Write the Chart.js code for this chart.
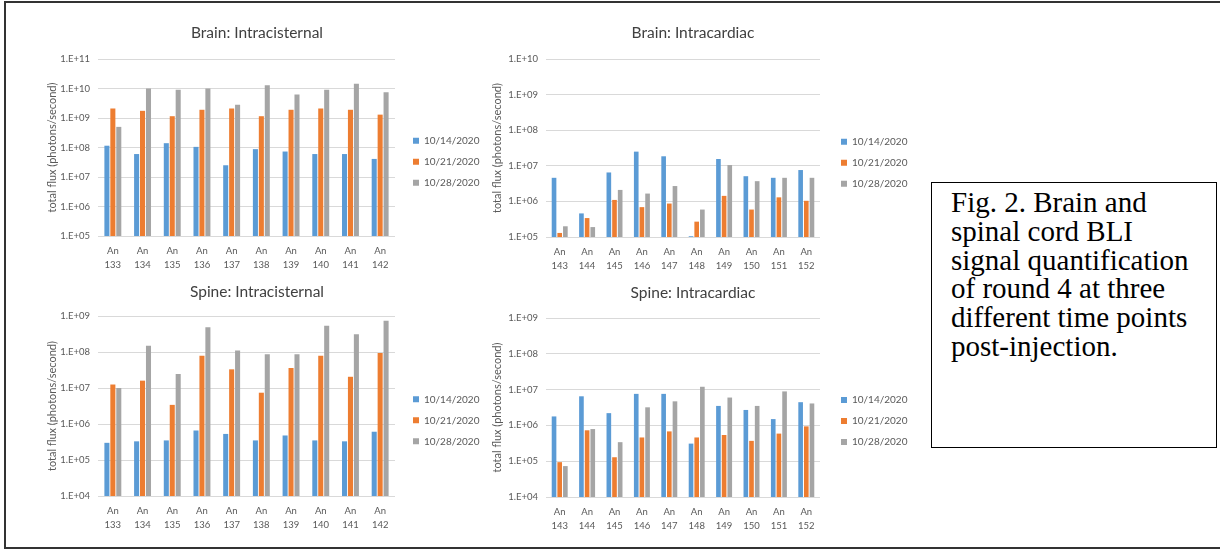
<!DOCTYPE html>
<html><head><meta charset="utf-8">
<script src="https://cdn.jsdelivr.net/npm/chart.js@4.4.1/dist/chart.umd.min.js"></script>
<style>
html,body{margin:0;padding:0;background:#fff;width:1220px;height:550px;overflow:hidden;}
canvas{position:absolute;}
#frame{position:absolute;left:4px;top:1px;width:1300px;height:548px;box-sizing:border-box;border:2px solid #333;border-right:none;}
#caption{position:absolute;left:931px;top:182px;width:286px;height:266px;box-sizing:border-box;border:1px solid #000;}
#captionText{position:absolute;left:951px;top:188px;font-family:"Liberation Serif","Times New Roman",serif;font-size:29px;line-height:28.8px;color:#000;white-space:nowrap;}
</style></head>
<body>
<div id="frame"></div>
<canvas id="c1" width="450" height="271" style="left:30px;top:5px"></canvas>
<canvas id="c2" width="430" height="272" style="left:480px;top:5px"></canvas>
<canvas id="c3" width="450" height="258" style="left:30px;top:278px"></canvas>
<canvas id="c4" width="430" height="259" style="left:480px;top:278px"></canvas>
<div id="caption"></div>
<div id="captionText">Fig. 2. Brain and<br>spinal cord BLI<br>signal quantification<br>of round 4 at three<br>different time points<br>post-injection.</div>
<script>
// ---------- data ----------
const seriesNames = ['10/14/2020', '10/21/2020', '10/28/2020'];

const icAnimals = ['133','134','135','136','137','138','139','140','141','142'];
const cardAnimals = ['143','144','145','146','147','148','149','150','151','152'];

// Brain: Intracisternal
const brainIcDay1 = [1.15e8, 6.0e7, 1.4e8, 1.05e8, 2.5e7, 8.8e7, 7.3e7, 6.0e7, 6.0e7, 4.1e7];
const brainIcDay2 = [2.1e9, 1.75e9, 1.15e9, 1.9e9, 2.1e9, 1.15e9, 1.9e9, 2.1e9, 1.9e9, 1.3e9];
const brainIcDay3 = [5.0e8, 1.0e10, 9.0e9, 1.0e10, 2.8e9, 1.3e10, 6.2e9, 9.0e9, 1.45e10, 7.4e9];

// Brain: Intracardiac
const brainCardDay1 = [4.6e6, 4.6e5, 6.5e6, 2.5e7, 1.85e7, 1.05e5, 1.55e7, 5.1e6, 4.6e6, 7.6e6];
const brainCardDay2 = [1.3e5, 3.4e5, 1.1e6, 6.9e5, 8.7e5, 2.7e5, 1.43e6, 5.9e5, 1.3e6, 1.04e6];
const brainCardDay3 = [2.0e5, 1.9e5, 2.1e6, 1.66e6, 2.7e6, 5.9e5, 1.05e7, 3.7e6, 4.6e6, 4.6e6];

// Spine: Intracisternal
const spineIcDay1 = [3.0e5, 3.3e5, 3.5e5, 6.6e5, 5.3e5, 3.5e5, 4.8e5, 3.5e5, 3.3e5, 6.1e5];
const spineIcDay2 = [1.25e7, 1.6e7, 3.4e6, 7.9e7, 3.3e7, 7.4e6, 3.6e7, 7.9e7, 2.05e7, 9.4e7];
const spineIcDay3 = [1.0e7, 1.5e8, 2.45e7, 4.9e8, 1.1e8, 8.6e7, 8.6e7, 5.4e8, 3.1e8, 7.4e8];

// Spine: Intracardiac
const spineCardDay1 = [1.78e6, 6.5e6, 2.2e6, 7.6e6, 7.6e6, 3.1e5, 3.5e6, 2.7e6, 1.5e6, 4.45e6];
const spineCardDay2 = [9.4e4, 7.3e5, 1.29e5, 4.6e5, 6.8e5, 4.6e5, 5.4e5, 3.7e5, 5.9e5, 9.4e5];
const spineCardDay3 = [7.3e4, 7.9e5, 3.4e5, 3.2e6, 4.7e6, 1.2e7, 6.0e6, 3.5e6, 8.9e6, 4.1e6];

// y-axis ticks
const ticksBrainIc = [1e5, 1e6, 1e7, 1e8, 1e9, 1e10, 1e11];
const labelsBrainIc = ['1.E+05','1.E+06','1.E+07','1.E+08','1.E+09','1.E+10','1.E+11'];
const ticksBrainCard = [1e5, 1e6, 1e7, 1e8, 1e9, 1e10];
const labelsBrainCard = ['1.E+05','1.E+06','1.E+07','1.E+08','1.E+09','1.E+10'];
const ticksSpine = [1e4, 1e5, 1e6, 1e7, 1e8, 1e9];
const labelsSpine = ['1.E+04','1.E+05','1.E+06','1.E+07','1.E+08','1.E+09'];

// ---------- styling ----------
const colors = ['#5B9BD5', '#ED7D31', '#A5A5A5'];
Chart.defaults.font.family = 'Lato';
Chart.defaults.color = '#595959';

const pinPlugin = {
  id: 'pin',
  afterLayout(chart, args, o) {
    const lg = chart.legend;
    if (lg && o.legendX != null) {
      lg.left = o.legendX - o.pad;
      lg.right = lg.left + 100;
      lg.top = o.legendY - o.itemH / 2 - o.pad;
      lg.bottom = lg.top + 200;
      lg.width = 100; lg.height = 200;
    }
    const tb = chart.titleBlock;
    if (tb && o.titleX != null) {
      const w = tb.right - tb.left;
      tb.left = o.titleX - w / 2;
      tb.right = tb.left + w;
    }
  }
};

function makeChart(id, g, title, animals, series, tickVals, tickLabels) {
  const ymin = tickVals[0], ymax = tickVals[tickVals.length - 1];
  new Chart(document.getElementById(id), {
    type: 'bar',
    data: {
      labels: animals.map(a => ['An', a]),
      datasets: series.map((d, i) => ({
        label: seriesNames[i],
        data: d,
        backgroundColor: colors[i],
        borderWidth: 0,
        categoryPercentage: g.catPct,
        barPercentage: g.barPct
      }))
    },
    options: {
      responsive: false,
      animation: false,
      devicePixelRatio: 1,
      layout: { padding: { left: 0, top: 0, bottom: 0, right: g.padR } },
      plugins: {
        tooltip: { enabled: false },
        title: {
          display: true, text: title, color: '#404040',
          font: { size: 15.5, family: 'Lato', weight: 'normal', lineHeight: '18px' },
          padding: { top: g.tPadTop, bottom: g.tPadBot }
        },
        legend: {
          display: true, position: 'right', align: 'start', maxWidth: 1,
          labels: { boxWidth: 6, boxHeight: 6, padding: 11, color: '#595959',
                    font: { size: 10, family: 'Lato' } }
        },
        pin: { legendX: g.legendX, legendY: g.legendY, titleX: g.titleX, pad: 11, itemH: 10 }
      },
      scales: {
        x: {
          grid: { display: false, drawTicks: false },
          border: { display: false },
          ticks: { autoSkip: false, maxRotation: 0, minRotation: 0, padding: 8, color: '#595959',
                   font: { size: 9.5, family: 'Lato', lineHeight: '14px' } },
          afterFit: s => { s.height = 40; }
        },
        y: {
          type: 'logarithmic', min: ymin, max: ymax,
          grid: { color: '#D9D9D9', lineWidth: 1, drawTicks: false },
          border: { display: false },
          afterBuildTicks: s => { s.ticks = tickVals.map(v => ({ value: v })); },
          ticks: {
            padding: 8, color: '#595959',
            font: { size: 9.5, family: 'Lato' },
            callback: v => { const k = tickVals.indexOf(v); return k >= 0 ? tickLabels[k] : ''; }
          },
          title: {
            display: true, text: 'total flux (photons/second)', color: '#595959',
            font: { size: 11, family: 'Lato', lineHeight: 1.2 },
            padding: { top: g.yTitlePad, bottom: 0 }
          },
          afterFit: s => { s.width = g.yW; }
        }
      }
    },
    plugins: [pinPlugin]
  });
}

makeChart('c1', { padR: 84, yW: 68, tPadTop: 19, tPadBot: 17, yTitlePad: 15.4,
                  titleX: 227, legendX: 383, legendY: 135.7, catPct: 0.6, barPct: 0.85 },
          'Brain: Intracisternal', icAnimals, [brainIcDay1, brainIcDay2, brainIcDay3],
          ticksBrainIc, labelsBrainIc);
makeChart('c2', { padR: 89, yW: 66, tPadTop: 18.5, tPadBot: 17.5, yTitlePad: 10.4,
                  titleX: 213, legendX: 361, legendY: 136.7, catPct: 0.62, barPct: 0.82 },
          'Brain: Intracardiac', cardAnimals, [brainCardDay1, brainCardDay2, brainCardDay3],
          ticksBrainCard, labelsBrainCard);
makeChart('c3', { padR: 84, yW: 68, tPadTop: 4.5, tPadBot: 15.5, yTitlePad: 15.4,
                  titleX: 227, legendX: 383, legendY: 121.3, catPct: 0.6, barPct: 0.85 },
          'Spine: Intracisternal', icAnimals, [spineIcDay1, spineIcDay2, spineIcDay3],
          ticksSpine, labelsSpine);
makeChart('c4', { padR: 89, yW: 66, tPadTop: 5.7, tPadBot: 16.3, yTitlePad: 10.4,
                  titleX: 213, legendX: 361, legendY: 122, catPct: 0.62, barPct: 0.82 },
          'Spine: Intracardiac', cardAnimals, [spineCardDay1, spineCardDay2, spineCardDay3],
          ticksSpine, labelsSpine);
</script>
</body></html>
